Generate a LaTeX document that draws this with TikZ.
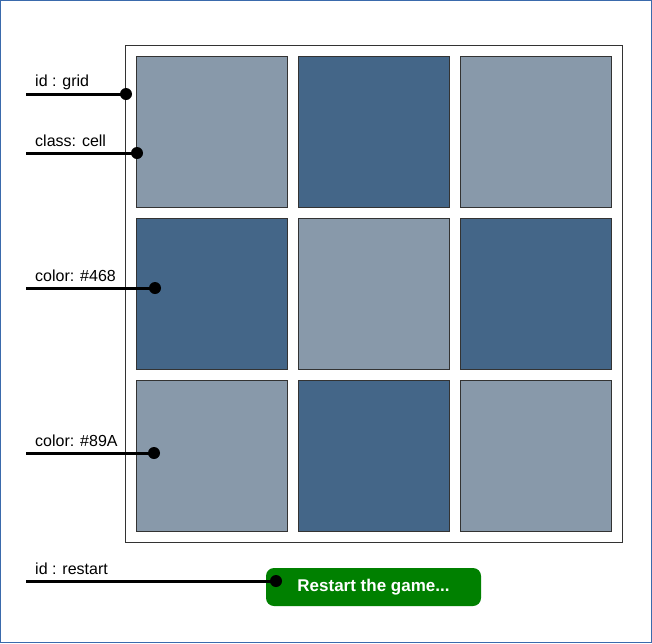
\documentclass[tikz,border=0pt]{standalone}
\usepackage{fontspec}
\setmainfont{Liberation Sans}
\definecolor{cellLight}{HTML}{8899AA}
\definecolor{cellDark}{HTML}{446688}
\definecolor{btnGreen}{HTML}{008000}
\definecolor{frameBlue}{HTML}{3A6AAC}
\definecolor{edgeGray}{HTML}{333333}
\tikzset{
  cell/.style={draw=edgeGray, line width=1pt, minimum size=151pt, inner sep=0pt},
  light/.style={cell, fill=cellLight},
  dark/.style={cell, fill=cellDark},
  dot/.style={circle, fill=black, minimum size=12pt, inner sep=0pt},
  pointer/.style={line width=3pt},
  tag/.style={anchor=base west, inner sep=0pt, font=\fontsize{16}{19}\selectfont}
}

\begin{document}
\begin{tikzpicture}[x=1pt, y=-1pt]
\useasboundingbox (0,0) rectangle (652,643);
\draw[frameBlue, line width=1pt] (0.5,0.5) rectangle (651.5,642.5); % page frame
\node[draw=edgeGray, line width=1pt, minimum size=497pt, inner sep=0pt] (grid) at (373.5,293.5) {}; % grid
\node[light] (c11) at (211.5,131.5) {};
\node[dark]  (c12) at (373.5,131.5) {};
\node[light] (c13) at (535.5,131.5) {};
\node[dark]  (c21) at (211.5,293.5) {};
\node[light] (c22) at (373.5,293.5) {};
\node[dark]  (c23) at (535.5,293.5) {};
\node[light] (c31) at (211.5,455.5) {};
\node[dark]  (c32) at (373.5,455.5) {};
\node[light] (c33) at (535.5,455.5) {};
\node[fill=btnGreen, rounded corners=8pt, minimum width=215pt, minimum height=38pt, text=white, font=\fontsize{17}{20}\selectfont\bfseries] (restart) at (373.5,587) {Restart the game...}; % button
% pointers
\coordinate (gridend) at (26,94);
\coordinate (cellend) at (26,153);
\coordinate (darkend) at (26,288);
\coordinate (lightend) at (26,453);
\coordinate (restartend) at (26,581);
\node[dot] (griddot) at (126,94) {};
\node[dot] (celldot) at (137,153) {};
\node[dot] (darkdot) at (155,288) {};
\node[dot] (lightdot) at (154,453) {};
\node[dot] (restartdot) at (276,581) {};
\draw[pointer] (gridend) -- (griddot.center);
\draw[pointer] (cellend) -- (celldot.center);
\draw[pointer] (darkend) -- (darkdot.center);
\draw[pointer] (lightend) -- (lightdot.center);
\draw[pointer] (restartend) -- (restartdot.center);
\node[tag] (gridtag) at (35,86) {id : grid};
\node[tag] (celltag) at (35,146) {class: cell};
\node[tag] (darktag) at (35,281) {color: \#468};
\node[tag] (lighttag) at (35,446) {color: \#89A};
\node[tag] (restarttag) at (35,574) {id : restart};
\end{tikzpicture}
\end{document}
